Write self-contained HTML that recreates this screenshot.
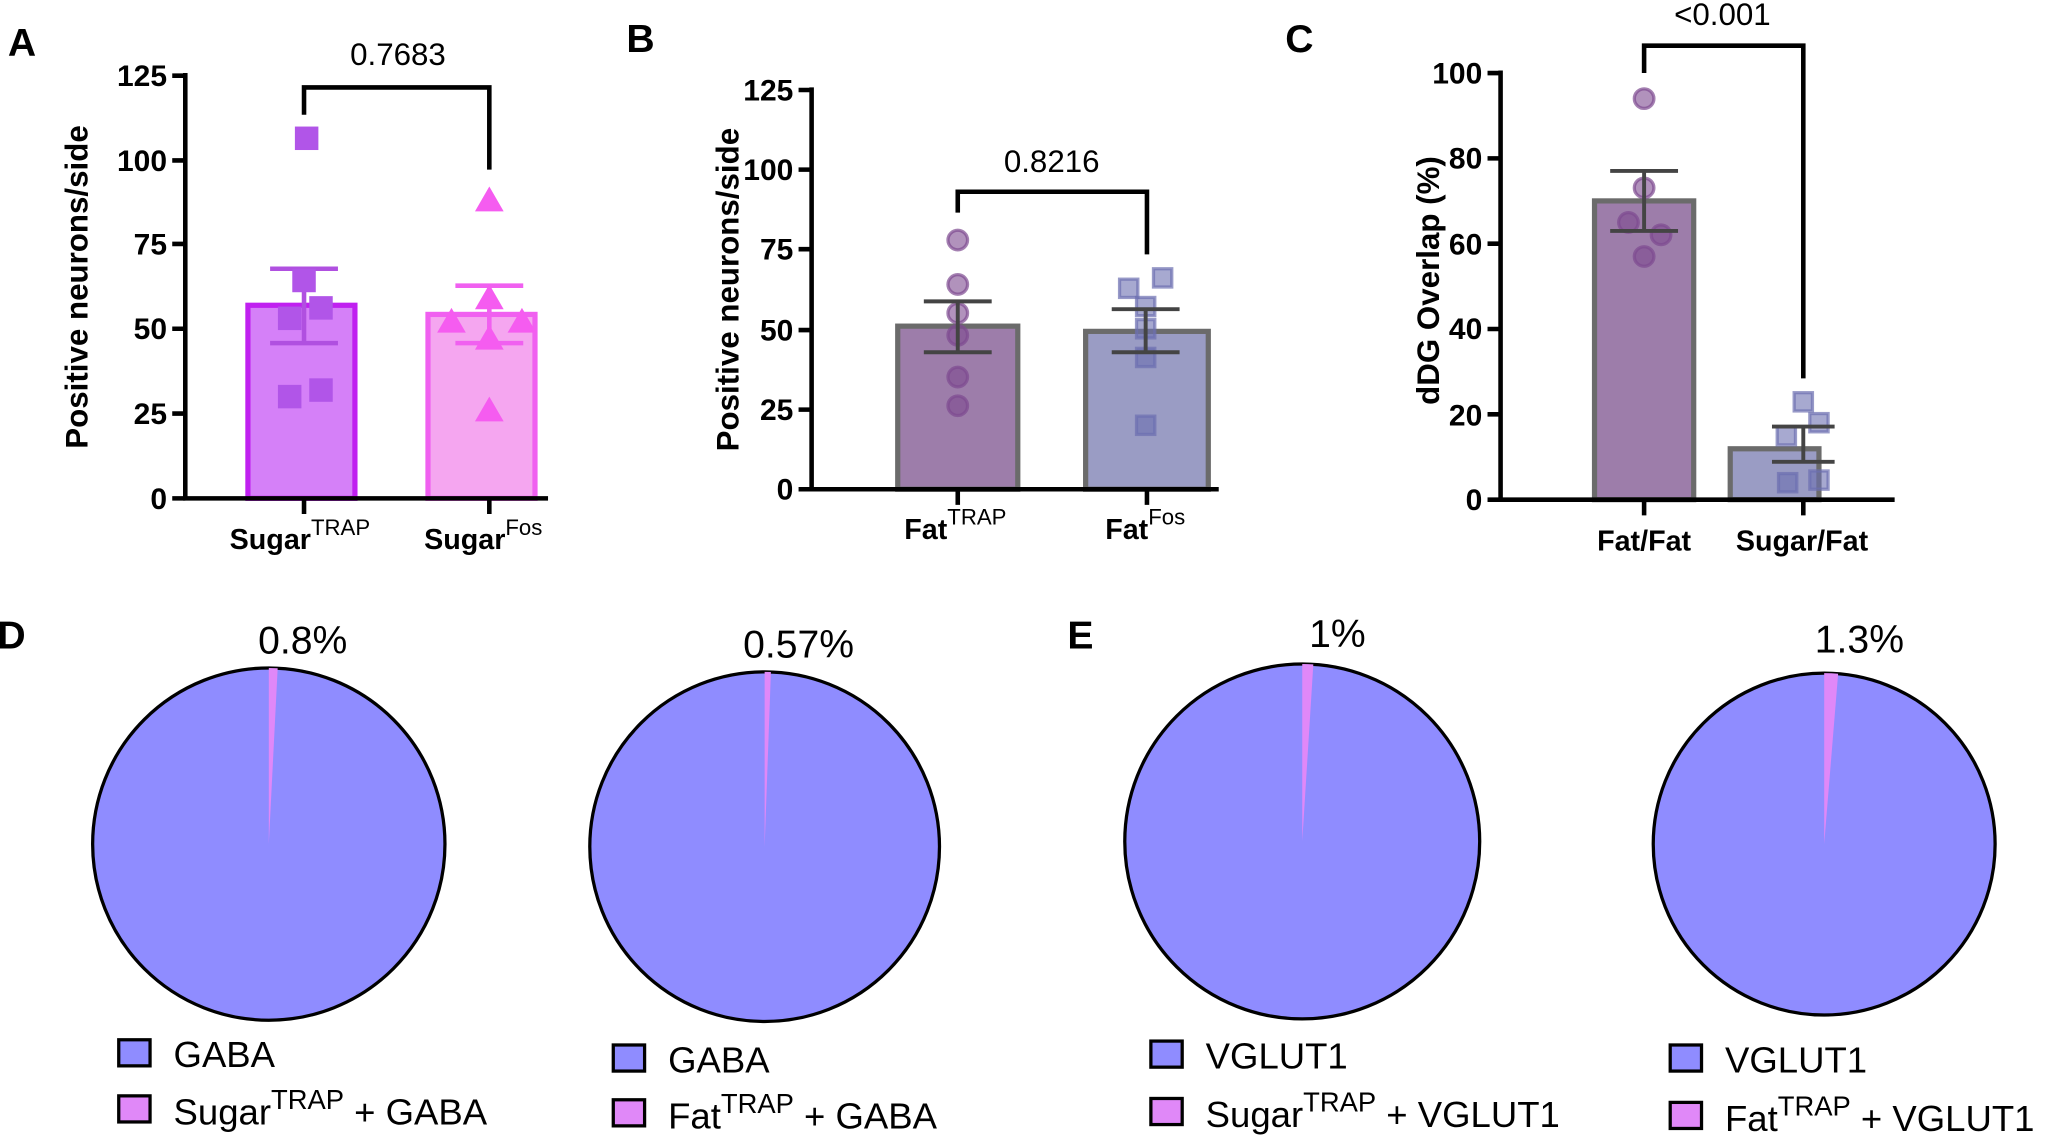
<!DOCTYPE html>
<html><head><meta charset="utf-8"><style>
html,body{margin:0;padding:0;background:#fff;}
svg{display:block;font-family:"Liberation Sans",Arial,sans-serif;}
</style></head><body>
<svg width="2046" height="1135" viewBox="0 0 1568 870" preserveAspectRatio="none" xmlns="http://www.w3.org/2000/svg">
<g font-size="30" font-weight="bold">
<text x="6" y="43">A</text><text x="480" y="40">B</text><text x="985" y="40">C</text>
<text x="-2" y="497">D</text><text x="818" y="497">E</text>
</g>

<!-- ===== Panel A ===== -->
<g>
<rect x="190" y="234" width="82" height="148" fill="#d580f8" stroke="#c020f0" stroke-width="4"/>
<rect x="328" y="241" width="82" height="141" fill="#f5a6f0" stroke="#f060f0" stroke-width="4"/>
<g stroke="#b050e0" stroke-width="3.5"><line x1="233" y1="206" x2="233" y2="263"/><line x1="207" y1="206" x2="259" y2="206"/><line x1="207" y1="263" x2="259" y2="263"/></g>
<g stroke="#f060f0" stroke-width="3.5"><line x1="375" y1="219" x2="375" y2="263"/><line x1="349" y1="219" x2="401" y2="219"/><line x1="349" y1="263" x2="401" y2="263"/></g>
<g fill="#b155e8">
<rect x="226" y="97" width="18" height="18"/><rect x="224" y="206" width="18" height="18"/><rect x="213" y="235" width="18" height="18"/><rect x="237" y="227" width="18" height="18"/><rect x="213" y="295" width="18" height="18"/><rect x="237" y="290" width="18" height="18"/>
</g>
<g fill="#f55cf0">
<path d="M375 143 l11 19 h-22z"/><path d="M375 218 l11 19 h-22z"/><path d="M346 236 l11 19 h-22z"/><path d="M400 236 l11 19 h-22z"/><path d="M375 249 l11 19 h-22z"/><path d="M375 304 l11 19 h-22z"/>
</g>
<g stroke="#000" stroke-width="3.5" fill="none">
<path d="M142 56 V382 H420"/>
<path d="M132 58H142M132 123H142M132 187H142M132 252H142M132 317H142M132 382H142"/>
<path d="M233 382V394M375 382V394"/>
<path d="M233 88V67H375V130"/>
</g>
<g font-size="23" font-weight="bold" text-anchor="end">
<text x="128" y="66">125</text><text x="128" y="131">100</text><text x="128" y="195">75</text><text x="128" y="260">50</text><text x="128" y="325">25</text><text x="128" y="390">0</text>
</g>
<text x="305" y="50" font-size="24" text-anchor="middle">0.7683</text>
<text transform="translate(67,220) rotate(-90)" font-size="24" font-weight="bold" text-anchor="middle">Positive neurons/side</text>
<text x="176" y="421" font-size="22" font-weight="bold">Sugar<tspan font-weight="normal" font-size="17" dy="-11">TRAP</tspan></text>
<text x="325" y="421" font-size="22" font-weight="bold">Sugar<tspan font-weight="normal" font-size="17" dy="-11">Fos</tspan></text>
</g>

<!-- ===== Panel B ===== -->
<g>
<rect x="688" y="250" width="92" height="125" fill="#9d7daa" stroke="#6b6b6b" stroke-width="4"/>
<rect x="832" y="254" width="94" height="121" fill="#9a9cc4" stroke="#6b6b6b" stroke-width="4"/>
<g fill="#7d4a90" fill-opacity="0.6" stroke="#7d4a90" stroke-opacity="0.7" stroke-width="2.5">
<circle cx="734" cy="184" r="7.5"/><circle cx="734" cy="218" r="7.5"/><circle cx="734" cy="240" r="7.5"/><circle cx="734" cy="257" r="7.5"/><circle cx="734" cy="289" r="7.5"/><circle cx="734" cy="311" r="7.5"/>
</g>
<g fill="#6c6fb0" fill-opacity="0.6" stroke="#6c6fb0" stroke-opacity="0.7" stroke-width="2.5">
<rect x="858" y="214" width="14" height="14"/><rect x="884" y="206" width="14" height="14"/><rect x="871" y="228" width="14" height="14"/><rect x="871" y="245" width="14" height="14"/><rect x="871" y="267" width="14" height="14"/><rect x="871" y="319" width="14" height="14"/>
</g>
<g stroke="#444" stroke-width="3"><line x1="734" y1="231" x2="734" y2="270"/><line x1="708" y1="231" x2="760" y2="231"/><line x1="708" y1="270" x2="760" y2="270"/>
<line x1="878" y1="237" x2="878" y2="270"/><line x1="852" y1="237" x2="904" y2="237"/><line x1="852" y1="270" x2="904" y2="270"/></g>
<g stroke="#000" stroke-width="3.5" fill="none">
<path d="M622 67 V375 H934"/>
<path d="M612 69H622M612 130H622M612 191H622M612 253H622M612 314H622M612 375H622"/>
<path d="M734 375V387M879 375V387"/>
<path d="M734 163V147H879V195"/>
</g>
<g font-size="23" font-weight="bold" text-anchor="end">
<text x="608" y="77">125</text><text x="608" y="138">100</text><text x="608" y="199">75</text><text x="608" y="261">50</text><text x="608" y="322">25</text><text x="608" y="383">0</text>
</g>
<text x="806" y="132" font-size="24" text-anchor="middle">0.8216</text>
<text transform="translate(566,222) rotate(-90)" font-size="24" font-weight="bold" text-anchor="middle">Positive neurons/side</text>
<text x="693" y="413" font-size="22" font-weight="bold">Fat<tspan font-weight="normal" font-size="17" dy="-11">TRAP</tspan></text>
<text x="847" y="413" font-size="22" font-weight="bold">Fat<tspan font-weight="normal" font-size="17" dy="-11">Fos</tspan></text>
</g>

<!-- ===== Panel C ===== -->
<g>
<rect x="1222" y="154" width="76" height="229" fill="#9d7daa" stroke="#6b6b6b" stroke-width="4"/>
<rect x="1326" y="344" width="68" height="39" fill="#9a9cc4" stroke="#6b6b6b" stroke-width="4"/>
<g fill="#7d4a90" fill-opacity="0.6" stroke="#7d4a90" stroke-opacity="0.7" stroke-width="2.5">
<circle cx="1260" cy="75.6" r="7.5"/><circle cx="1260" cy="144" r="7.5"/><circle cx="1248" cy="170.5" r="7.5"/><circle cx="1273" cy="180" r="7.5"/><circle cx="1260" cy="196.6" r="7.5"/>
</g>
<g fill="#6c6fb0" fill-opacity="0.6" stroke="#6c6fb0" stroke-opacity="0.7" stroke-width="2.5">
<rect x="1375" y="301" width="14" height="14"/><rect x="1387" y="317" width="14" height="14"/><rect x="1362" y="327" width="14" height="14"/><rect x="1363" y="363" width="14" height="14"/><rect x="1387" y="361" width="14" height="14"/>
</g>
<g stroke="#444" stroke-width="3"><line x1="1260" y1="131" x2="1260" y2="177"/><line x1="1234" y1="131" x2="1286" y2="131"/><line x1="1234" y1="177" x2="1286" y2="177"/>
<line x1="1382" y1="327" x2="1382" y2="354"/><line x1="1358" y1="327" x2="1406" y2="327"/><line x1="1358" y1="354" x2="1406" y2="354"/></g>
<g stroke="#000" stroke-width="3.5" fill="none">
<path d="M1150 54 V383 H1452"/>
<path d="M1140 56H1150M1140 121.4H1150M1140 186.8H1150M1140 252.2H1150M1140 317.6H1150M1140 383H1150"/>
<path d="M1260 383V395M1382 383V395"/>
<path d="M1260 56V35H1382V290"/>
</g>
<g font-size="23" font-weight="bold" text-anchor="end">
<text x="1136" y="64">100</text><text x="1136" y="129">80</text><text x="1136" y="195">60</text><text x="1136" y="260">40</text><text x="1136" y="326">20</text><text x="1136" y="391">0</text>
</g>
<text x="1320" y="19" font-size="24" text-anchor="middle">&lt;0.001</text>
<text transform="translate(1103,215) rotate(-90)" font-size="24" font-weight="bold" text-anchor="middle">dDG Overlap (%)</text>
<text x="1260" y="422" font-size="22" font-weight="bold" text-anchor="middle">Fat/Fat</text>
<text x="1381" y="422" font-size="22" font-weight="bold" text-anchor="middle">Sugar/Fat</text>
</g>

<!-- ===== Pies ===== -->
<g stroke="#000" stroke-width="2.5">
<circle cx="206" cy="647" r="135" fill="#8f8cff"/>
<path d="M206 647 L206 512 A135 135 0 0 1 212.8 512.2 Z" fill="#e088f8" stroke="none"/>
<circle cx="586" cy="649" r="134" fill="#8f8cff"/>
<path d="M586 649 L586 515 A134 134 0 0 1 590.8 515.1 Z" fill="#e088f8" stroke="none"/>
<circle cx="998" cy="645" r="136" fill="#8f8cff"/>
<path d="M998 645 L998 509 A136 136 0 0 1 1006.5 509.3 Z" fill="#e088f8" stroke="none"/>
<circle cx="1398" cy="647" r="131" fill="#8f8cff"/>
<path d="M1398 647 L1398 516 A131 131 0 0 1 1408.7 516.4 Z" fill="#e088f8" stroke="none"/>
</g>
<g font-size="30" text-anchor="middle">
<text x="232" y="501">0.8%</text><text x="612" y="504">0.57%</text><text x="1025" y="496">1%</text><text x="1425" y="500">1.3%</text>
</g>

<g stroke="#000" stroke-width="2.5">
<rect x="91" y="797" width="24" height="20" fill="#8f8cff"/><rect x="91" y="840" width="24" height="20" fill="#e088f8"/>
<rect x="470" y="801" width="24" height="20" fill="#8f8cff"/><rect x="470" y="843" width="24" height="20" fill="#e088f8"/>
<rect x="882" y="798" width="24" height="20" fill="#8f8cff"/><rect x="882" y="842" width="24" height="20" fill="#e088f8"/>
<rect x="1280" y="801" width="24" height="20" fill="#8f8cff"/><rect x="1280" y="845" width="24" height="20" fill="#e088f8"/>
</g>
<g font-size="28">
<text x="133" y="818">GABA</text>
<text x="133" y="862">Sugar<tspan font-size="21" dy="-12">TRAP</tspan><tspan dy="12"> + GABA</tspan></text>
<text x="512" y="822">GABA</text>
<text x="512" y="865">Fat<tspan font-size="21" dy="-12">TRAP</tspan><tspan dy="12"> + GABA</tspan></text>
<text x="924" y="819">VGLUT1</text>
<text x="924" y="864">Sugar<tspan font-size="21" dy="-12">TRAP</tspan><tspan dy="12"> + VGLUT1</tspan></text>
<text x="1322" y="822">VGLUT1</text>
<text x="1322" y="867">Fat<tspan font-size="21" dy="-12">TRAP</tspan><tspan dy="12"> + VGLUT1</tspan></text>
</g>
</svg>
</body></html>
